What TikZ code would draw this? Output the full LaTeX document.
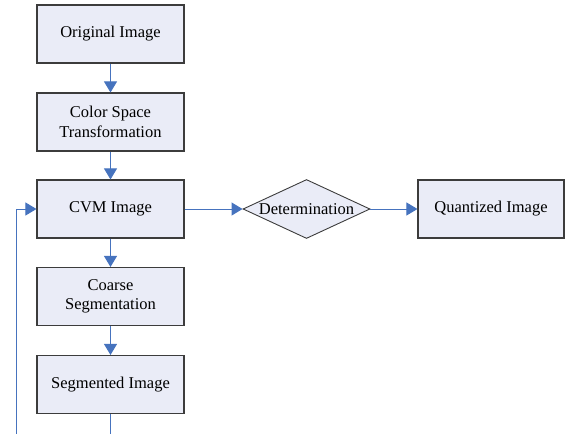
\documentclass[tikz,border=0pt]{standalone}
\usepackage{fontspec}
\setmainfont{Liberation Serif}
\usetikzlibrary{arrows.meta,shapes.geometric}
\definecolor{boxfill}{RGB}{234,236,247}
\definecolor{arrowblue}{RGB}{70,115,190}
\definecolor{edgegray}{RGB}{60,60,60}
\tikzset{
  procbox/.style={draw=edgegray,line width=1.1pt,fill=boxfill,minimum width=147pt,minimum height=58pt,inner sep=0pt,align=center,font=\fontsize{16.5}{19.5}\selectfont},
  decision/.style={diamond,draw=edgegray,line width=0.9pt,fill=boxfill,minimum width=127pt,minimum height=59pt,inner sep=0pt,aspect=2.15,font=\fontsize{16.5}{19.5}\selectfont},
  flow/.style={draw=arrowblue,line width=1pt,-{Triangle[width=13pt,length=11pt]}},
  flowline/.style={draw=arrowblue,line width=1pt}
}
\begin{document}
\begin{tikzpicture}[x=1pt,y=-1pt]
\useasboundingbox (0,0) rectangle (568,434);
\node[procbox] (orig) at (110.5,34) {Original Image};
\node[procbox] (csp) at (110.5,122) {Color Space\\Transformation};
\node[procbox] (cvm) at (110.5,209) {CVM Image};
\node[procbox] (coarse) at (110.5,296.5) {Coarse\\Segmentation};
\node[procbox] (seg) at (110.5,384.5) {Segmented Image};
\node[decision,minimum width=127pt,minimum height=59pt] (det) at (306.5,209) {Determination};
\node[procbox,minimum width=146pt] (quant) at (491,209) {Quantized Image};
\coordinate (segout) at (110.5,434);
\coordinate (loopbot) at (16,434);
\coordinate (loopturn) at (16,209);
\draw[flow] (orig) -- (csp);
\draw[flow] (csp) -- (cvm);
\draw[flow] (cvm) -- (coarse);
\draw[flow] (coarse) -- (seg);
\draw[flow] (cvm) -- (det);
\draw[flow] (det) -- (quant);
\draw[flowline] (seg) -- (segout);
\draw[flow] (loopbot) -- (loopturn) -- (cvm.west);
\end{tikzpicture}
\end{document}
